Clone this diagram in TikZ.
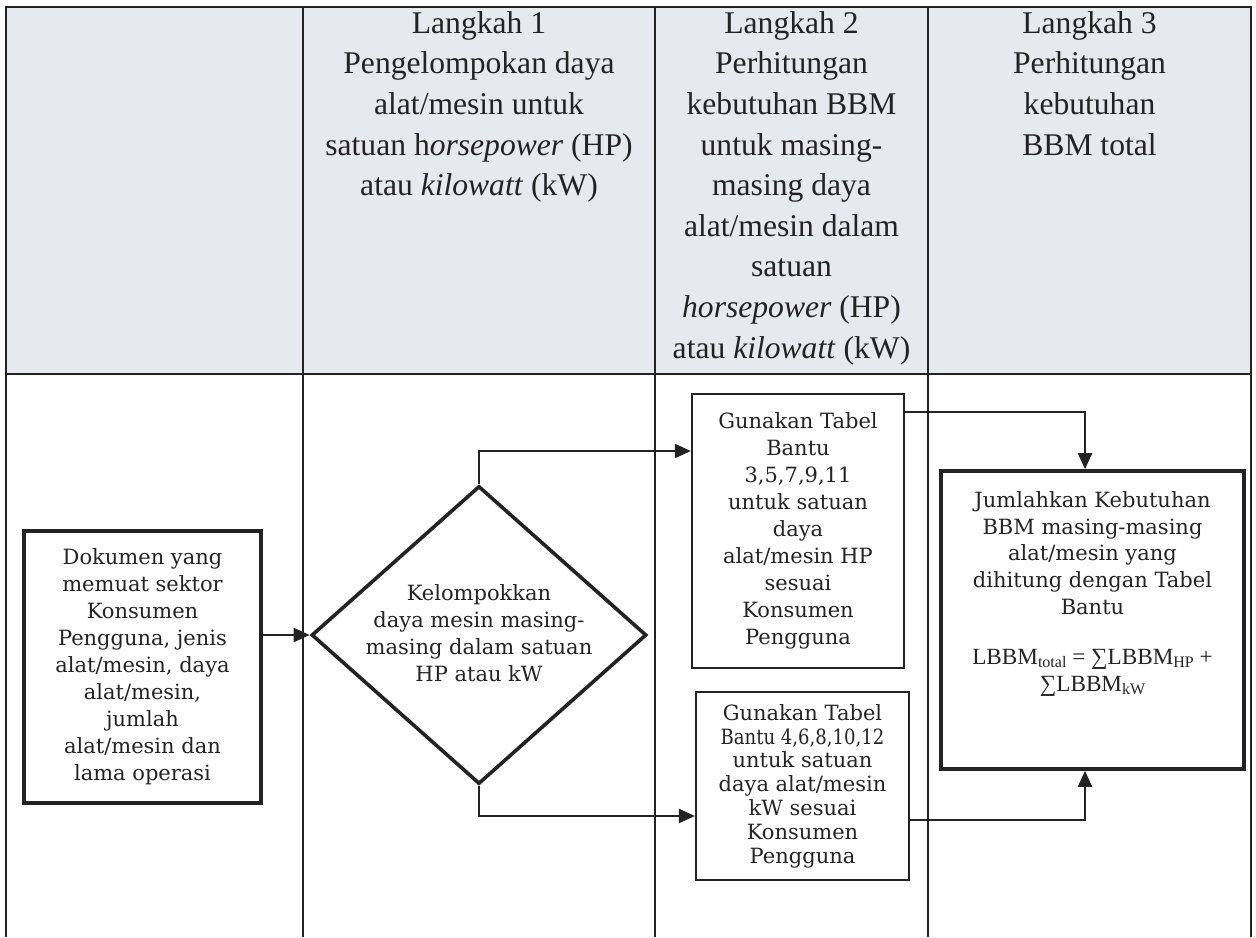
\documentclass[tikz,border=0pt]{standalone}
\usepackage{fontspec}
\usepackage{graphicx}
\setmainfont{DejaVu Serif}
\newfontfamily\hdfont{Liberation Serif}
\usetikzlibrary{shapes.geometric,arrows.meta}
\definecolor{ink}{HTML}{232323}
\definecolor{hdbg}{HTML}{E6EAEE}
\newcommand\sbs[1]{\raisebox{-0.3ex}{\fontsize{8}{8}\selectfont #1}}
\begin{document}
\begin{tikzpicture}[x=0.5pt,y=-0.5pt,
  tbl/.style={draw=ink,line width=0.8pt},
  hdtxt/.style={font=\hdfont\fontsize{15.8}{20.3}\selectfont, align=center, anchor=north, inner sep=0pt, text=ink},
  boxtxt/.style={font=\fontsize{10.5}{13.5}\selectfont, align=center, text=ink},
  thickbox/.style={draw=ink, line width=1.8pt, inner sep=0pt, boxtxt},
  thinbox/.style={draw=ink, line width=1.1pt, inner sep=0pt, boxtxt},
  arr/.style={draw=ink, line width=1.1pt, -{Triangle[length=8pt,width=7pt]}}]
\useasboundingbox (0,0) rectangle (1256,937);
% table
\fill[hdbg] (6,7) rectangle (1251,374);
\draw[tbl] (6,937) -- (6,7) -- (1251,7) -- (1251,937);
\draw[tbl] (6,374) -- (1251,374);
\draw[tbl] (303,7) -- (303,937);
\draw[tbl] (655,7) -- (655,937);
\draw[tbl] (928,7) -- (928,937);
% headers
\node[hdtxt] (h1) at (479,11) {Langkah 1\\Pengelompokan daya\\alat/mesin untuk\\satuan h\textit{orsepower} (HP)\\atau \textit{kilowatt} (kW)};
\node[hdtxt] (h2) at (791.5,11) {Langkah 2\\Perhitungan\\kebutuhan BBM\\untuk masing-\\masing daya\\alat/mesin dalam\\satuan\\\textit{horsepower} (HP)\\atau \textit{kilowatt} (kW)};
\node[hdtxt] (h3) at (1089.5,11) {Langkah 3\\Perhitungan\\kebutuhan\\BBM total};
% flowchart
\node[thickbox, minimum width=118.5pt, minimum height=136pt] (box1) at (142.5,667)
  {Dokumen yang\\memuat sektor\\Konsumen\\Pengguna, jenis\\alat/mesin, daya\\alat/mesin,\\jumlah\\alat/mesin dan\\lama operasi};
\node[diamond, draw=ink, line width=1.8pt, inner sep=0pt, minimum width=167.5pt, minimum height=149pt] (dia) at (479,635) {};
\node[boxtxt, inner sep=0pt] (diatxt) at (479,633) {Kelompokkan\\daya mesin masing-\\masing dalam satuan\\HP atau kW};
\node[thinbox, minimum width=106pt, minimum height=137pt] (box2) at (798,531)
  {Gunakan Tabel\\Bantu\\3,5,7,9,11\\untuk satuan\\daya\\alat/mesin HP\\sesuai\\Konsumen\\Pengguna};
\node[thinbox, font=\fontsize{10.5}{11.9}\selectfont, minimum width=106.5pt, minimum height=94pt] (box3) at (802.5,786)
  {Gunakan Tabel\\\scalebox{0.86}[1]{Bantu 4,6,8,10,12}\\untuk satuan\\daya alat/mesin\\kW sesuai\\Konsumen\\Pengguna};
\node[draw=ink, line width=1.8pt, minimum width=151.5pt, minimum height=149pt] (box4) at (1092.5,620) {};
\node[boxtxt, font=\fontsize{10.5}{13.4}\selectfont, inner sep=0pt, anchor=north] (box4txt) at (1092.5,491)
  {Jumlahkan Kebutuhan\\BBM masing-masing\\alat/mesin yang\\dihitung dengan Tabel\\Bantu\\[11.5pt]
   {\hdfont\fontsize{11.6}{13.4}\selectfont LBBM\sbs{total} = ∑LBBM\sbs{HP} +}\\
   {\hdfont\fontsize{11.6}{13.4}\selectfont ∑LBBM\sbs{kW}}};
% connectors
\draw[arr] (box1.east |- dia.west) -- (dia.west);
\draw[arr] (dia.north) |- ([yshift=40pt]box2.west);
\draw[arr] (dia.south) |- ([yshift=-15pt]box3.west);
\draw[arr] ([yshift=59.5pt]box2.east) -| ([xshift=-3.75pt]box4.north);
\draw[arr] ([yshift=-17pt]box3.east) -| ([xshift=-3.75pt]box4.south);
\end{tikzpicture}
\end{document}
